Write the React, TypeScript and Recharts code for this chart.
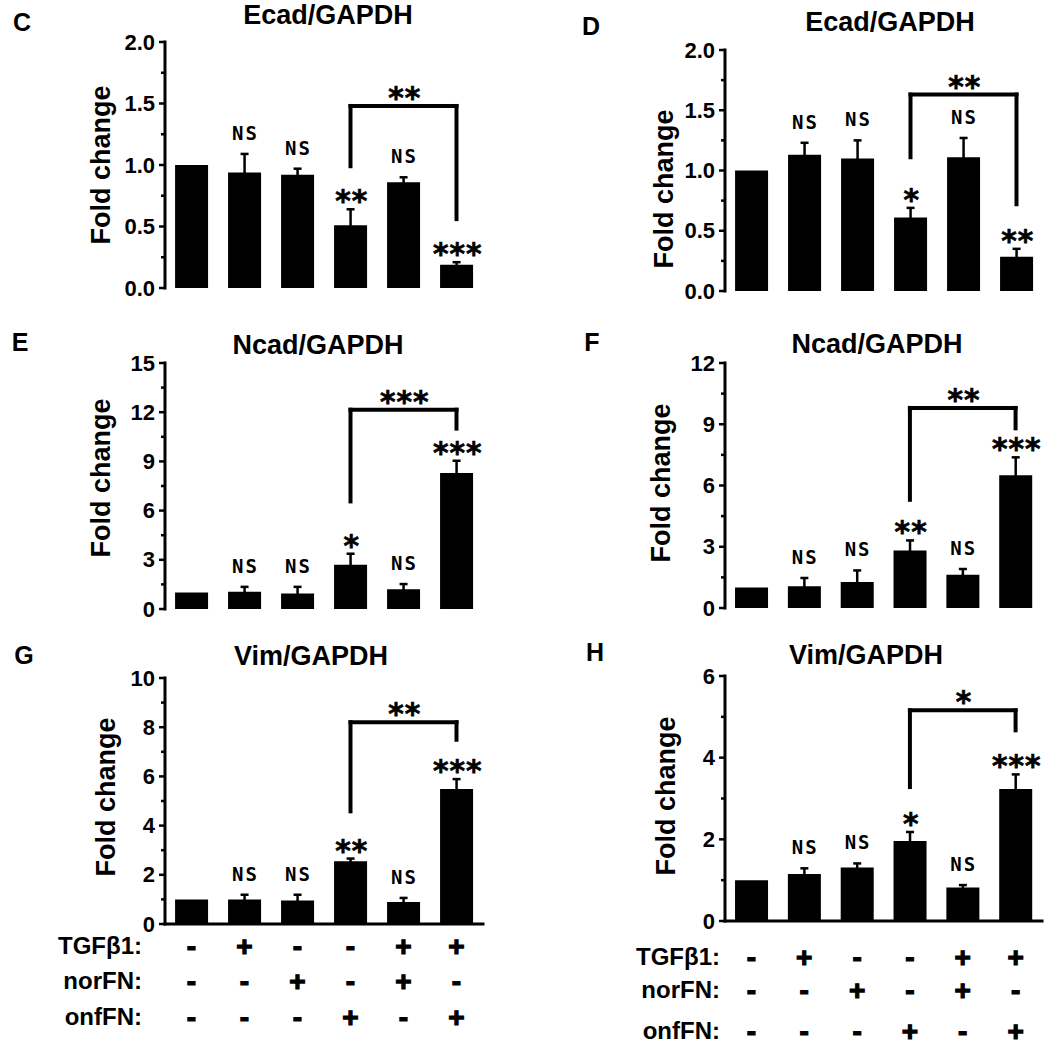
import React from 'react';
import { BarChart, Bar, XAxis, YAxis, ErrorBar, ReferenceLine, ReferenceDot } from 'recharts';

// ---------- shared categories / condition table ----------
const categories = ['Control', 'TGFβ1', 'norFN', 'onfFN', 'TGFβ1+norFN', 'TGFβ1+onfFN'];
const tgfb1Row = ['-', '+', '-', '-', '+', '+'];
const norFNRow = ['-', '-', '+', '-', '+', '-'];
const onfFNRow = ['-', '-', '-', '+', '-', '+'];
const rowLabels = ['TGFβ1:', 'norFN:', 'onfFN:'];

// ---------- panel C : Ecad/GAPDH ----------
const cMean = [1.0, 0.94, 0.92, 0.51, 0.86, 0.19];
const cErr = [0, 0.15, 0.05, 0.13, 0.04, 0.02];
const cSig = ['', 'NS', 'NS', '**', 'NS', '***'];
const cBracket = [0.99, 1.48, 0.56];
const cBracketSig = '**';
const cTicks = [0, 0.5, 1.0, 1.5, 2.0];

// ---------- panel D : Ecad/GAPDH ----------
const dMean = [1.0, 1.13, 1.1, 0.61, 1.11, 0.285];
const dErr = [0, 0.1, 0.15, 0.08, 0.16, 0.065];
const dSig = ['', 'NS', 'NS', '*', 'NS', '**'];
const dBracket = [1.11, 1.63, 0.72];
const dBracketSig = '**';
const dTicks = [0, 0.5, 1.0, 1.5, 2.0];

// ---------- panel E : Ncad/GAPDH ----------
const eMean = [1.0, 1.05, 0.95, 2.7, 1.2, 8.3];
const eErr = [0, 0.3, 0.4, 0.67, 0.32, 0.74];
const eSig = ['', 'NS', 'NS', '*', 'NS', '***'];
const eBracket = [6.56, 12.15, 11.0];
const eBracketSig = '***';
const eTicks = [0, 3, 6, 9, 12, 15];

// ---------- panel F : Ncad/GAPDH ----------
const fMean = [1.0, 1.06, 1.27, 2.82, 1.63, 6.5];
const fErr = [0, 0.41, 0.57, 0.49, 0.28, 0.88];
const fSig = ['', 'NS', 'NS', '**', 'NS', '***'];
const fBracket = [5.3, 9.8, 8.8];
const fBracketSig = '**';
const fTicks = [0, 3, 6, 9, 12];

// ---------- panel G : Vim/GAPDH ----------
const gMean = [1.0, 1.0, 0.96, 2.55, 0.89, 5.49];
const gErr = [0, 0.19, 0.23, 0.11, 0.17, 0.4];
const gSig = ['', 'NS', 'NS', '**', 'NS', '***'];
const gBracket = [4.58, 8.2, 7.49];
const gBracketSig = '**';
const gTicks = [0, 2, 4, 6, 8, 10];

// ---------- panel H : Vim/GAPDH ----------
const hMean = [1.0, 1.15, 1.31, 1.96, 0.82, 3.23];
const hErr = [0, 0.14, 0.1, 0.22, 0.06, 0.36];
const hSig = ['', 'NS', 'NS', '*', 'NS', '***'];
const hBracket = [3.28, 5.16, 4.67];
const hBracketSig = '*';
const hTicks = [0, 2, 4, 6];

const FONT = '"Liberation Sans", Arial, Helvetica, sans-serif';
const MONO = '"DejaVu Sans Mono", "Liberation Mono", monospace';

type Box = { L: number; T: number; R: number; B: number };
type PanelSpec = {
  letter: string;
  title: string;
  mean: number[];
  err: number[];
  sig: string[];
  bracket: number[];
  bracketSig: string;
  majorTicks: number[];
  decimals: number;
  box: Box;
  letterPos: [number, number];
  titlePos: [number, number];
  yLabelPos: [number, number];
  rows?: { offsets: number[]; labelRight: number };
};

const panels: PanelSpec[] = [
  {
    letter: 'C', title: 'Ecad/GAPDH', mean: cMean, err: cErr, sig: cSig, bracket: cBracket, bracketSig: cBracketSig,
    majorTicks: cTicks, decimals: 1, box: { L: 165, T: 42, R: 483, B: 288 },
    letterPos: [22, 22], titlePos: [328, 15], yLabelPos: [101, 165],
  },
  {
    letter: 'D', title: 'Ecad/GAPDH', mean: dMean, err: dErr, sig: dSig, bracket: dBracket, bracketSig: dBracketSig,
    majorTicks: dTicks, decimals: 1, box: { L: 725, T: 50, R: 1043, B: 291 },
    letterPos: [591, 26], titlePos: [890, 22], yLabelPos: [664, 189],
  },
  {
    letter: 'E', title: 'Ncad/GAPDH', mean: eMean, err: eErr, sig: eSig, bracket: eBracket, bracketSig: eBracketSig,
    majorTicks: eTicks, decimals: 0, box: { L: 165, T: 363, R: 483, B: 609 },
    letterPos: [20, 342], titlePos: [318, 345], yLabelPos: [101, 478],
  },
  {
    letter: 'F', title: 'Ncad/GAPDH', mean: fMean, err: fErr, sig: fSig, bracket: fBracket, bracketSig: fBracketSig,
    majorTicks: fTicks, decimals: 0, box: { L: 725, T: 363, R: 1042, B: 608 },
    letterPos: [592, 342], titlePos: [877, 344], yLabelPos: [661, 483],
  },
  {
    letter: 'G', title: 'Vim/GAPDH', mean: gMean, err: gErr, sig: gSig, bracket: gBracket, bracketSig: gBracketSig,
    majorTicks: gTicks, decimals: 0, box: { L: 165, T: 678, R: 483, B: 924 },
    letterPos: [24, 655], titlePos: [311, 656], yLabelPos: [106, 797],
    rows: { offsets: [22, 57, 93], labelRight: 142 },
  },
  {
    letter: 'H', title: 'Vim/GAPDH', mean: hMean, err: hErr, sig: hSig, bracket: hBracket, bracketSig: hBracketSig,
    majorTicks: hTicks, decimals: 0, box: { L: 725, T: 676, R: 1042, B: 921 },
    letterPos: [595, 652], titlePos: [866, 655], yLabelPos: [666, 796],
    rows: { offsets: [36, 69, 110], labelRight: 720 },
  },
];

const AXIS_LINE = { stroke: '#000', strokeWidth: 3, strokeLinecap: 'square' as const };

const makeYTick = (majors: number[], decimals: number) => (props: any) => {
  const { x, y, payload } = props;
  const v = payload.value as number;
  const isMajor = majors.some((m) => Math.abs(m - v) < 1e-9);
  return (
    <g>
      <line x1={x - (isMajor ? 6 : 4)} x2={x} y1={y} y2={y} stroke="#000" strokeWidth={2.5} />
      {isMajor && (
        <text x={x - 10} y={y} dy={7.5} textAnchor="end" fontFamily={FONT} fontWeight="bold" fontSize={22} fill="#000">
          {v.toFixed(decimals)}
        </text>
      )}
    </g>
  );
};

const makeXTick = (offsets: number[]) => (props: any) => {
  const { x, y, payload } = props;
  const i = categories.indexOf(payload.value);
  const rows = [tgfb1Row, norFNRow, onfFNRow];
  return (
    <g>
      {rows.map((r, k) => (
        <text
          key={k}
          x={x}
          y={y + offsets[k]}
          dy={9.5}
          textAnchor="middle"
          fontFamily={FONT}
          fontWeight="bold"
          fontSize={28}
          fill="#000"
          stroke="#000"
          strokeWidth={1.2}
        >
          {r[i]}
        </text>
      ))}
    </g>
  );
};

const sigShape = (label: string) => (s: any) => {
  const isNS = label === 'NS';
  if (isNS) {
    return (
      <text
        x={s.cx + 1}
        y={s.cy}
        dy={-14}
        textAnchor="middle"
        fontFamily={MONO}
        fontWeight="bold"
        fontSize={19}
        letterSpacing={2}
        fill="#000"
      >
        {label}
      </text>
    );
  }
  return (
    <text
      x={s.cx}
      y={s.cy}
      dy={2}
      textAnchor="middle"
      fontFamily={MONO}
      fontWeight="bold"
      fontSize={30}
      letterSpacing={-1.5}
      fill="#000"
      stroke="#000"
      strokeWidth={0.6}
    >
      {label}
    </text>
  );
};

const HText = ({ x, y, size, children, anchor = 'middle', rotate = false }: any) => {
  const tx = anchor === 'middle' ? '-50%' : anchor === 'end' ? '-100%' : '0';
  return (
    <div
      style={{
        position: 'absolute',
        left: x,
        top: y,
        transform: `translate(${tx}, -50%)${rotate ? ' rotate(-90deg)' : ''}`,
        fontFamily: FONT,
        fontWeight: 'bold',
        fontSize: size,
        lineHeight: 1,
        whiteSpace: 'nowrap',
        color: '#000',
      }}
    >
      {children}
    </div>
  );
};

function Panel({ p }: { p: PanelSpec }) {
  const data = categories.map((c, i) => ({ cat: c, mean: p.mean[i], err: p.err[i] }));
  const yMax = p.majorTicks[p.majorTicks.length - 1];
  const minor = p.majorTicks.slice(1).map((t, i) => (t + p.majorTicks[i]) / 2);
  const allTicks = [...p.majorTicks, ...minor].sort((a, b) => a - b);
  const YW = 60;
  const ML = 10;
  const MR = 5;
  const MT = 20;
  const MB = 16;
  const xh = p.rows ? 130 : 0;
  const plotW = p.box.R - p.box.L;
  const plotH = p.box.B - p.box.T;
  const width = ML + YW + plotW + MR;
  const height = MT + plotH + xh + MB;
  const [bl, bt, br] = p.bracket;

  return (
    <>
      <HText x={p.letterPos[0]} y={p.letterPos[1]} size={25}>{p.letter}</HText>
      <HText x={p.titlePos[0]} y={p.titlePos[1]} size={27}>{p.title}</HText>
      <HText x={p.yLabelPos[0]} y={p.yLabelPos[1]} size={27} rotate>Fold change</HText>
      {p.rows &&
        rowLabels.map((lab, k) => (
          <HText key={lab} x={p.rows!.labelRight} y={p.box.B + p.rows!.offsets[k]} size={24} anchor="end">
            {lab}
          </HText>
        ))}
      <div style={{ position: 'absolute', left: p.box.L - YW - ML, top: p.box.T - MT }}>
        <BarChart
          width={width}
          height={height}
          data={data}
          margin={{ top: MT, right: MR, bottom: MB, left: ML }}
          barCategoryGap="19%"
        >
          <XAxis
            dataKey="cat"
            height={xh}
            axisLine={AXIS_LINE}
            tickLine={false}
            tickSize={0}
            tickMargin={0}
            interval={0}
            tick={p.rows ? makeXTick(p.rows.offsets) : false}
          />
          <XAxis
            xAxisId="top"
            orientation="top"
            dataKey="cat"
            height={0}
            axisLine={AXIS_LINE}
            tickLine={false}
            tick={false}
          />
          <YAxis
            domain={[0, yMax]}
            ticks={allTicks}
            interval={0}
            width={YW}
            axisLine={AXIS_LINE}
            tickLine={false}
            tickSize={0}
            tickMargin={0}
            tick={makeYTick(p.majorTicks, p.decimals)}
            allowDataOverflow
          />
          <YAxis
            yAxisId="right"
            orientation="right"
            domain={[0, yMax]}
            width={0}
            axisLine={AXIS_LINE}
            tickLine={false}
            tick={false}
          />
          <Bar dataKey="mean" fill="#000" isAnimationActive={false}>
            <ErrorBar dataKey="err" width={4} stroke="#000" strokeWidth={2.5} direction="y" isAnimationActive={false} />
          </Bar>
          <ReferenceLine
            segment={[{ x: categories[3], y: bl }, { x: categories[3], y: bt }]}
            stroke="#000"
            strokeWidth={4}
            strokeLinecap="square"
          />
          <ReferenceLine
            segment={[{ x: categories[3], y: bt }, { x: categories[5], y: bt }]}
            stroke="#000"
            strokeWidth={4}
            strokeLinecap="square"
          />
          <ReferenceLine
            segment={[{ x: categories[5], y: bt }, { x: categories[5], y: br }]}
            stroke="#000"
            strokeWidth={4}
            strokeLinecap="square"
          />
          <ReferenceDot x={categories[4]} y={bt} r={1} shape={sigShape(p.bracketSig)} />
          {p.sig.map((s, i) =>
            s ? (
              <ReferenceDot key={i} x={categories[i]} y={p.mean[i] + p.err[i]} r={1} shape={sigShape(s)} />
            ) : null
          )}
        </BarChart>
      </div>
    </>
  );
}

export default function App() {
  return (
    <div
      style={{
        position: 'absolute',
        left: 0,
        top: 0,
        width: 1050,
        height: 1050,
        background: '#fff',
        overflow: 'hidden',
      }}
    >
      {panels.map((p) => (
        <Panel key={p.letter} p={p} />
      ))}
    </div>
  );
}
